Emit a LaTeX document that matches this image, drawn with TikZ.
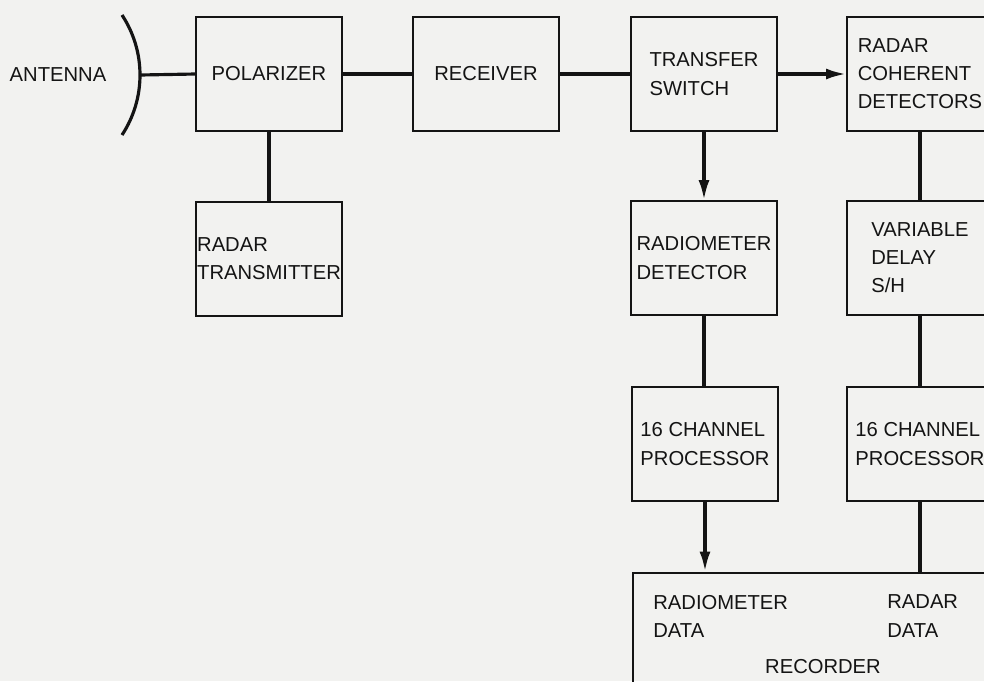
\documentclass[tikz,border=0pt]{standalone}
\usepackage{fontspec}
\setmainfont{Liberation Sans}
\usetikzlibrary{arrows.meta}
\definecolor{paper}{rgb}{0.95,0.95,0.94}
\definecolor{ink}{rgb}{0.08,0.08,0.08}
\begin{document}
\begin{tikzpicture}[
	x=0.02cm, y=-0.02cm,
	box/.style={
		draw=ink, line width=1.1pt,
		minimum width=2.92cm, minimum height=2.28cm,
		align=left, text=ink, inner sep=0pt,
		font=\fontsize{11.5}{16}\selectfont
	},
	lbl/.style={text=ink, align=left, inner sep=0pt,
		font=\fontsize{11.5}{16}\selectfont},
	arr/.style={-{Latex[length=4mm,width=2.2mm]}, line width=1.8pt, draw=ink},
	line/.style={line width=1.8pt, draw=ink}
]

% page, in pixels of the reference (984 x 681)
\fill[paper] (0,0) rectangle (984,681);
\clip (0,0) rectangle (984,681);

% Nodes
% top row centres at y=74, second row y=258, third row y=444
\node[lbl] (ant) at (58, 75) {ANTENNA};
\node[box] (pol)   at (269, 74)  {POLARIZER};
\node[box] (tx)    at (269, 259) {RADAR\\TRANSMITTER};
\node[box] (rcv)   at (486, 74)  {RECEIVER};
\node[box] (sw)    at (704, 74)  {TRANSFER\\SWITCH};
\node[box] (coh)   at (920, 74)  {RADAR\\COHERENT\\DETECTORS};
\node[box] (rad)   at (704, 258) {RADIOMETER\\DETECTOR};
\node[box] (dly)   at (920, 258) {VARIABLE\\DELAY\\S/H};
\node[box] (proc1) at (705, 444) {16 CHANNEL\\PROCESSOR};
\node[box] (proc2) at (920, 444) {16 CHANNEL\\PROCESSOR};

% recorder runs off the right and bottom edges
\node[box, minimum width=9.34cm, minimum height=4.14cm] (rec) at (866, 676) {};
\node[lbl, anchor=west] (recrad) at (653, 616) {RADIOMETER\\DATA};
\node[lbl, anchor=west] (recdar) at (887, 616) {RADAR\\DATA};
\node[lbl] (recname) at (823, 667) {RECORDER};

% dish: circle arc, centre (31,75), radius 109
\draw[line] (122, 15) arc[start angle=-33.4, end angle=33.4, radius=109];
\coordinate (dish) at (140, 75);

% top row
\draw[line] (dish) -- (pol.west);
\draw[line] (pol) -- (rcv);
\draw[line] (rcv) -- (sw);
\draw[arr]  (sw) -- (coh);

% transmitter
\draw[line] (pol) -- (tx);

% radiometer chain
\draw[arr]  (sw) -- (rad);
\draw[line] (rad.south) -- (rad.south |- proc1.north);
\draw[arr]  (proc1) -- (proc1.south |- rec.north);

% radar chain
\draw[line] (coh) -- (dly);
\draw[line] (dly) -- (proc2);
\draw[line] (proc2) -- (proc2.south |- rec.north);

\end{tikzpicture}
\end{document}
